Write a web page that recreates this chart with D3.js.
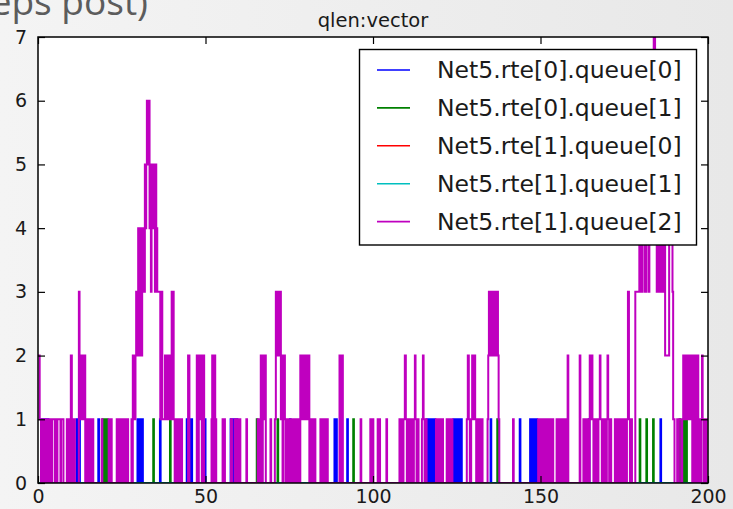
<!DOCTYPE html>
<html>
<head>
<meta charset="utf-8">
<script src="https://cdn.jsdelivr.net/npm/d3@7"></script>
<style>
  html, body { margin: 0; padding: 0; overflow: hidden; background: #eeeeee; }
  svg { display: block; }
</style>
</head>
<body>
<svg id="chart" width="733" height="509"></svg>
<script>
// ---- chart data -------------------------------------------------------------
const chartTitle = "qlen:vector";
const captionText = "(steps post)";
const xTicks = [0, 50, 100, 150, 200];
const yTicks = [0, 1, 2, 3, 4, 5, 6, 7];
const seriesNames = [
  "Net5.rte[0].queue[0]",
  "Net5.rte[0].queue[1]",
  "Net5.rte[1].queue[0]",
  "Net5.rte[1].queue[1]",
  "Net5.rte[1].queue[2]"
];
const seriesColors = ["#0000ff", "#008000", "#ff0000", "#00bfbf", "#bf00bf"];

// queue length change points: [time, length], held until the next point
const rte0queue0 = [
  [0,0],[1.0,1],[1.3,0],[1.6,1],[1.9,0],[2.2,1],[2.5,0],[2.8,1],[3.1,0],
  [11.5,1],[11.8,0],[12.1,1],[12.5,0],[18.0,1],[18.2,0],
  [29.7,1],[30.0,0],[30.4,1],[30.7,0],[31.0,1],[31.3,0],[36.4,1],[36.6,0],
  [44.4,1],[44.7,0],[45.0,1],[45.3,0],[45.7,1],[46.0,0],[49.8,1],[50.0,0],
  [57.5,1],[57.8,0],[58.3,1],[58.6,0],[59.2,1],[59.5,0],[75.2,1],[75.4,0],
  [88.5,1],[88.8,0],[89.0,1],[89.2,0],[92.3,1],[92.5,0],
  [116.0,1],[116.3,0],[116.6,1],[116.9,0],[117.2,1],[117.5,0],[117.8,1],[118.1,0],[118.4,1],[118.6,0],
  [124.0,1],[124.3,0],[124.6,1],[124.9,0],[125.2,1],[125.5,0],[125.8,1],[126.1,0],[126.3,1],[126.5,0],
  [135.1,1],[135.3,0],[143.8,1],[144.0,0],
  [146.9,1],[147.2,0],[147.5,1],[147.8,0],[148.2,1],[148.5,0],[148.8,1],[149.0,0],
  [164.4,1],[164.6,0],[185.8,1],[186.0,0],[200,0]
];
const rte0queue1 = [
  [0,0],[19.3,1],[19.6,0],[19.9,1],[20.2,0],[20.5,1],[20.8,0],[34.4,1],[34.6,0],
  [39.4,1],[39.6,0],[65.3,1],[65.5,0],[71.5,1],[71.7,0],[94.1,1],[94.3,0],
  [137.1,1],[137.3,0],[179.6,1],[179.8,0],[181.6,1],[181.8,0],[183.6,1],[183.8,0],
  [191.5,1],[191.7,0],[192.7,1],[192.9,0],[193.5,1],[193.7,0],[200,0]
];
const rte1queue0 = [[0,0],[200,0]];
const rte1queue1 = [[0,0],[200,0]];
const rte1queue2 = [
  [0,2],[0.5,1],[0.9,0],[1.2,1],[1.7,0],[2.0,1],[2.4,0],[2.7,1],[3.3,0],[3.6,1],[4.0,0],[4.2,1],
  [5.0,0],[5.2,1],[5.6,0],[5.8,1],[6.7,0],[6.9,1],[7.6,0],
  [8.6,1],[8.9,0],[9.2,1],[9.5,0],[9.8,2],[10.1,1],[10.4,0],[10.7,1],[11.0,0],
  [12.2,3],[12.4,1],[12.7,2],[13.0,1],[13.3,2],[13.6,1],[13.9,2],[14.1,0],
  [14.4,1],[14.7,0],[15.0,1],[15.3,0],[15.6,1],[15.9,0],[16.2,1],[16.5,0],
  [19.0,1],[19.2,0],[21.1,1],[21.4,0],[21.7,1],[22.0,0],
  [23.5,1],[23.8,0],[24.1,1],[24.4,0],[24.7,1],[25.0,0],[25.3,1],[25.6,0],[25.9,1],[26.2,0],[26.5,1],[26.9,0],
  [27.9,1],[28.1,0],[28.3,2],[28.5,1],[28.7,2],[28.9,1],[29.1,2],[29.3,3],[29.5,2],[29.7,3],[29.9,4],
  [30.1,2],[30.3,4],[30.5,3],[30.7,4],[30.9,2],[31.1,4],[31.3,3],[31.5,4],[31.7,3],[31.9,5],[32.1,4],
  [32.3,5],[32.5,6],[32.8,5],[33.1,6],[33.3,4],[33.5,5],[33.7,3],[33.9,5],[34.1,4],[34.3,5],[34.5,4],
  [34.7,5],[34.9,3],[35.1,5],[35.3,4],[35.6,3],[36.5,1],[36.8,3],[37.1,1],
  [37.9,2],[38.1,1],[38.3,2],[38.5,1],[38.7,2],[38.9,1],[39.1,2],[39.3,1],[39.5,2],[39.7,1],[39.9,3],
  [40.1,1],[40.3,3],[40.5,1],[40.8,0],[41.1,1],[41.4,0],[41.7,1],[42.0,0],[42.3,1],[42.6,0],[42.8,1],[43.0,0],
  [44.8,2],[45.2,0],[47.4,2],[47.7,0],[48.0,2],[48.3,1],[48.6,2],[48.9,0],[49.2,2],[49.6,0],
  [51.8,1],[52.0,2],[52.3,0],[52.6,2],[52.9,1],[53.2,0],[55.1,1],[55.4,0],[55.6,1],[55.8,0],
  [57.6,1],[57.9,0],[58.7,1],[59.0,0],[59.6,1],[59.9,0],[60.2,1],[60.4,0],[62.2,1],[62.4,0],
  [65.6,1],[65.9,0],[66.2,1],[66.5,2],[66.8,0],[67.1,2],[67.4,1],[67.7,2],[68.0,0],[69.4,1],[69.6,0],
  [70.7,1],[71.0,3],[71.3,2],[71.6,3],[71.9,2],[72.2,3],[72.5,1],[72.8,2],[73.0,0],[73.3,1],[73.5,2],
  [73.7,1],[74.0,0],[74.3,1],[74.6,0],[74.9,1],[75.1,0],[75.5,1],[75.8,0],
  [76.4,1],[76.7,0],[77.0,1],[77.3,0],[77.6,1],[77.9,0],[78.3,2],[78.6,1],[78.9,2],[79.2,1],[79.5,2],
  [79.8,1],[80.1,2],[80.4,1],[80.7,2],[81.0,0],[81.3,1],[81.6,0],[81.9,1],[82.2,0],[82.5,1],[82.8,0],
  [84.3,1],[84.6,0],[84.9,1],[85.2,0],[85.5,1],[85.8,0],[86.1,1],[86.5,0],
  [90.0,2],[90.2,0],[90.8,2],[91.0,0],[96.3,1],[96.5,0],
  [99.2,1],[99.5,0],[99.8,1],[100.1,0],[101.4,1],[101.7,0],[101.9,1],[102.1,0],[104.0,1],[104.2,0],
  [107.9,1],[108.2,0],[108.5,1],[108.8,0],[109.1,1],[109.5,2],[109.8,1],[110.1,0],[110.4,1],[110.7,0],
  [111.0,1],[111.3,0],[111.6,1],[111.9,0],[112.2,1],[112.5,2],[112.7,1],[113.0,0],[113.3,1],[113.6,0],
  [114.6,1],[114.9,2],[115.1,1],[115.4,0],[115.7,1],[116.0,0],
  [118.8,1],[119.1,0],[119.4,1],[119.7,0],[120.0,1],[120.3,0],[120.6,1],[120.9,0],
  [122.0,1],[122.3,0],[122.7,1],[123.0,0],[123.4,1],[123.7,0],
  [128.0,1],[128.3,2],[128.6,1],[128.9,0],[129.3,1],[129.6,2],[129.9,1],[130.2,2],[130.5,1],[130.8,0],
  [131.1,1],[131.4,0],[131.7,1],[132.0,0],[132.3,1],[132.7,0],
  [134.2,1],[134.4,2],[134.6,3],[134.9,2],[135.2,3],[135.5,2],[135.8,3],[136.1,2],[136.4,3],[136.7,2],
  [137.0,3],[137.3,2],[137.5,1],[137.7,0],[141.8,1],[142.0,0],
  [149.3,1],[149.6,0],[149.9,1],[150.2,0],[150.5,1],[150.8,0],[151.1,1],[151.4,0],[151.7,1],[152.0,0],
  [152.3,1],[152.6,0],[152.9,1],[153.2,0],[153.5,1],[153.8,0],
  [154.8,1],[155.1,0],[155.4,1],[155.7,0],[156.3,1],[156.6,0],[156.9,1],[157.2,0],[157.5,1],[157.8,0],
  [158.1,2],[158.3,0],[161.7,2],[161.9,0],
  [162.8,1],[163.1,0],[163.5,1],[163.8,0],[164.1,1],[164.3,0],[164.7,2],[165.0,1],[165.2,2],[165.5,1],
  [165.8,0],[166.1,1],[166.4,0],[166.7,1],[167.0,0],[167.3,1],[167.7,2],[167.9,1],[168.3,0],[168.6,1],
  [168.9,0],[169.2,1],[169.5,0],[169.8,1],[170.0,2],[170.2,1],[170.5,0],[170.8,1],[171.1,0],
  [172.2,1],[172.5,0],[172.8,1],[173.1,0],[173.4,1],[173.7,0],[174.0,1],[174.3,0],[174.6,1],[174.9,0],
  [175.2,1],[175.5,0],[175.8,1],[176.1,3],[176.4,1],[176.7,0],[177.0,1],[177.3,0],
  [178.3,3],[179.5,4],[180.0,3],[180.5,5],[181.2,3],[181.5,6],[182.2,3],[182.5,5],[183.5,6],[183.8,7],
  [184.2,6],[184.7,3],[185.0,4],[185.3,3],[185.6,4],[185.9,3],[186.2,4],[186.5,3],[186.8,4],[187.2,2],
  [188.4,4],[189.4,3],[189.6,1],[190.0,0],
  [190.8,1],[191.1,0],[191.3,1],[192.0,0],[192.3,1],[192.6,2],[192.9,1],[193.1,2],[193.4,1],[193.8,2],
  [194.1,1],[194.4,2],[194.7,1],[195.0,2],[195.3,0],[195.6,2],[195.9,0],[196.2,2],[196.5,0],[196.8,2],
  [197.1,0],[197.4,1],[197.7,0],[198.0,1],[198.2,2],[198.4,1],[198.7,0],[199.0,1],[199.3,0],[199.6,1],[200,1]
];
const seriesData = [rte0queue0, rte0queue1, rte1queue0, rte1queue1, rte1queue2];

// ---- layout -------------------------------------------------------------------
const W = 733, H = 509;
const plot = { left: 38, top: 37, right: 708, bottom: 483 };

const svg = d3.select("#chart");

// soft grey page background
const defs = svg.append("defs");
const bg = defs.append("linearGradient").attr("id", "pageBg")
  .attr("x1", "0").attr("y1", "0").attr("x2", "1").attr("y2", "0");
bg.append("stop").attr("offset", "0%").attr("stop-color", "#f4f4f4");
bg.append("stop").attr("offset", "100%").attr("stop-color", "#e8e8e8");
defs.append("clipPath").attr("id", "plotClip").append("rect")
  .attr("x", plot.left).attr("y", plot.top)
  .attr("width", plot.right - plot.left).attr("height", plot.bottom - plot.top);

svg.append("rect").attr("width", W).attr("height", H).attr("fill", "url(#pageBg)");

// caption partly running off the top edge
svg.append("text")
  .attr("x", 148).attr("y", 15)
  .attr("text-anchor", "end")
  .attr("font-family", "'Open Sans', sans-serif")
  .attr("font-size", 37)
  .attr("fill", "#5c5c5c")
  .text(captionText);

const x = d3.scaleLinear().domain([0, 200]).range([plot.left, plot.right]);
const y = d3.scaleLinear().domain([0, 7]).range([plot.bottom, plot.top]);

svg.append("rect")
  .attr("x", plot.left).attr("y", plot.top)
  .attr("width", plot.right - plot.left).attr("height", plot.bottom - plot.top)
  .attr("fill", "#ffffff");

// step lines (value held until the next change)
const stepLine = d3.line()
  .x(d => x(d[0]))
  .y(d => y(d[1]))
  .curve(d3.curveStepAfter);

const lines = svg.append("g").attr("clip-path", "url(#plotClip)");
seriesData.forEach((data, i) => {
  lines.append("path")
    .datum(data)
    .attr("fill", "none")
    .attr("stroke", seriesColors[i])
    .attr("stroke-width", 2)
    .attr("d", stepLine);
});

// axes with inward ticks on all four sides
const tickLen = 7;
const fontAxis = "'DejaVu Sans', sans-serif";
const fmt = d3.format("d");

const axBottom = d3.axisBottom(x).tickValues(xTicks).tickFormat(fmt).tickSizeInner(-tickLen).tickSizeOuter(0);
const axTop = d3.axisTop(x).tickValues(xTicks).tickSizeInner(-tickLen).tickSizeOuter(0).tickFormat("");
const axLeft = d3.axisLeft(y).tickValues(yTicks).tickFormat(fmt).tickSizeInner(-tickLen).tickSizeOuter(0).tickPadding(11);
const axRight = d3.axisRight(y).tickValues(yTicks).tickSizeInner(-tickLen).tickSizeOuter(0).tickFormat("");

function styleAxis(g) {
  g.select(".domain").remove();
  g.selectAll(".tick line").attr("stroke", "#000").attr("stroke-width", 1.2);
  g.selectAll(".tick text")
    .attr("font-family", fontAxis)
    .attr("font-size", 19)
    .attr("fill", "#1a1a1a");
}

// bottom labels sit on a fixed baseline just above the page edge
svg.append("g").attr("transform", `translate(0,${plot.bottom})`).call(axBottom).call(styleAxis)
  .selectAll(".tick text").attr("y", 20).attr("dy", null);
svg.append("g").attr("transform", `translate(0,${plot.top})`).call(axTop).call(styleAxis);
svg.append("g").attr("transform", `translate(${plot.left},0)`).call(axLeft).call(styleAxis);
svg.append("g").attr("transform", `translate(${plot.right},0)`).call(axRight).call(styleAxis);

// frame
svg.append("rect")
  .attr("x", plot.left).attr("y", plot.top)
  .attr("width", plot.right - plot.left).attr("height", plot.bottom - plot.top)
  .attr("fill", "none").attr("stroke", "#000").attr("stroke-width", 1.5);

// title
svg.append("text")
  .attr("x", (plot.left + plot.right) / 2).attr("y", 27)
  .attr("text-anchor", "middle")
  .attr("font-family", fontAxis)
  .attr("font-size", 19.5)
  .attr("fill", "#1a1a1a")
  .text(chartTitle);

// legend
const legend = svg.append("g");
const lg = { x: 359.5, y: 49.5, w: 337, h: 195.5, row0: 70, rowStep: 37.9 };
legend.append("rect")
  .attr("x", lg.x).attr("y", lg.y).attr("width", lg.w).attr("height", lg.h)
  .attr("fill", "#ffffff").attr("stroke", "#000").attr("stroke-width", 1.4);
seriesNames.forEach((name, i) => {
  const cy = lg.row0 + i * lg.rowStep;
  legend.append("line")
    .attr("x1", 377).attr("x2", 410).attr("y1", cy).attr("y2", cy)
    .attr("stroke", seriesColors[i]).attr("stroke-width", 1.6);
  legend.append("text")
    .attr("x", 437).attr("y", cy).attr("dy", "0.36em")
    .attr("font-family", fontAxis)
    .attr("font-size", 23.5)
    .attr("fill", "#1a1a1a")
    .text(name);
});
</script>
</body>
</html>
